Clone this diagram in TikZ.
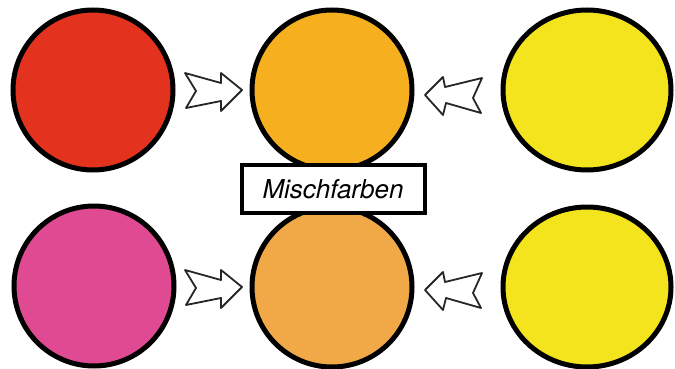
\documentclass[tikz,border=0pt]{standalone}
\usepackage{fontspec}
\newfontfamily\labelfont{TeX Gyre Heros}
\usetikzlibrary{shapes.geometric}
\definecolor{cred}{HTML}{E3331F}
\definecolor{corangeA}{HTML}{F5AF1F}
\definecolor{cyellow}{HTML}{F4E41E}
\definecolor{cpink}{HTML}{E04A92}
\definecolor{corangeB}{HTML}{F0A946}
\tikzset{
  blob/.style={ellipse, draw=black, line width=5pt, inner sep=0pt,
    minimum width=#1, minimum height=160pt},
  blob/.default=160pt,
  blockarrow/.style={draw=black!85, fill=white, line width=1.8pt, line join=round},
  labelbox/.style={draw=black, line width=4pt, fill=white, minimum width=183pt,
    minimum height=48pt, inner sep=0pt, font=\labelfont\itshape\fontsize{26}{26}\selectfont}
}
\begin{document}
\begin{tikzpicture}[x=1pt,y=-1pt]
\useasboundingbox (0,0) rectangle (675,369);
% top row
\node[blob, fill=cred] (red) at (93,90) {};
\node[blob, fill=corangeA] (orangeA) at (332,90) {};
\node[blob=168pt, fill=cyellow] (yellowA) at (587,90) {};
% bottom row
\node[blob, fill=cpink] (pink) at (94,286) {};
\node[blob, fill=corangeB] (orangeB) at (332,287) {};
\node[blob=168pt, fill=cyellow] (yellowB) at (587,287) {};
% label
\node[labelbox] (label) at (333,189) {Mischfarben};
% arrows pointing right
\foreach \dy in {0,197}{
  \draw[blockarrow, yshift=-\dy] (185,73) -- (221,83) -- (221,73) -- (242,90) -- (221,111)
    -- (221,101) -- (186,108) -- (196,91) -- cycle;
}
% arrows pointing left
\foreach \dy in {0,195}{
  \draw[blockarrow, yshift=-\dy] (425,95) -- (443,77) -- (445,87) -- (482,78) -- (473,98)
    -- (481,113) -- (446,103) -- (443,115) -- cycle;
}
\end{tikzpicture}
\end{document}
